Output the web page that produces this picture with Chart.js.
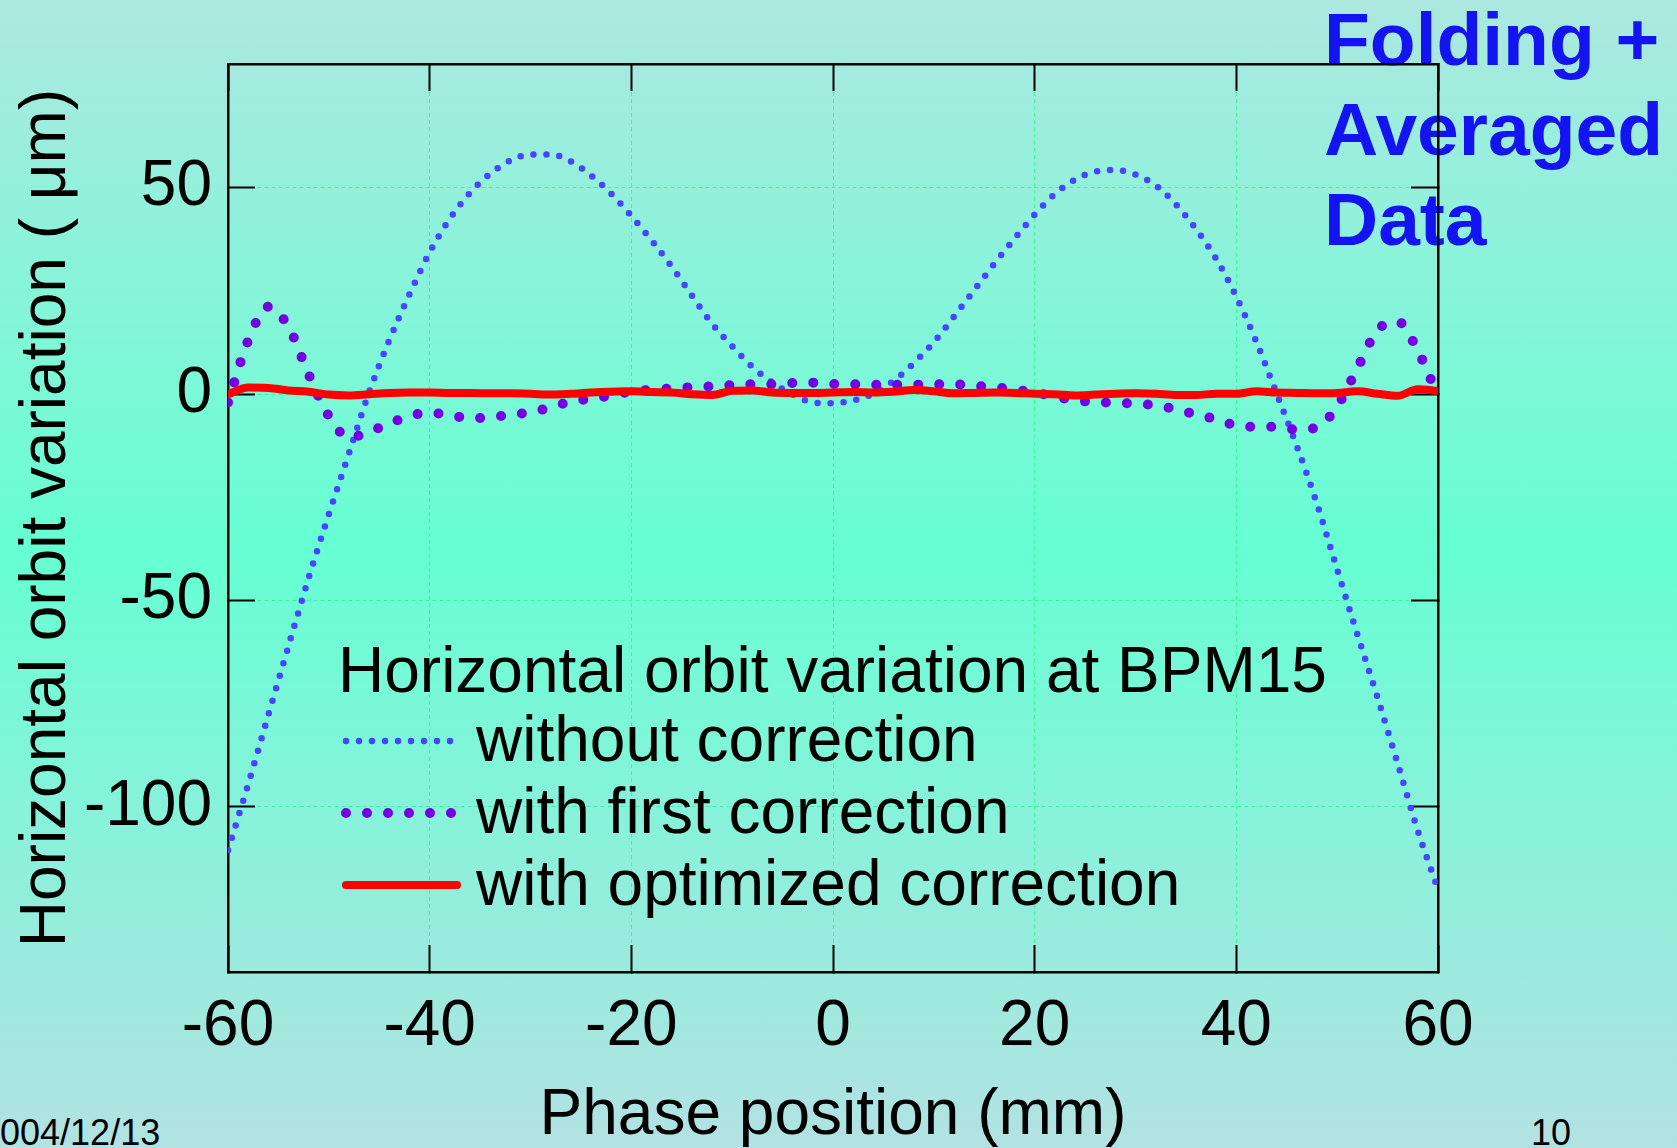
<!DOCTYPE html>
<html>
<head>
<meta charset="utf-8">
<title>Horizontal orbit variation at BPM15</title>
<script src="https://cdn.jsdelivr.net/npm/chart.js@4.4.1/dist/chart.umd.min.js"></script>
<style>
  html, body { margin: 0; padding: 0; }
  body {
    width: 1677px; height: 1148px; overflow: hidden; position: relative;
    background: linear-gradient(to bottom, #ace8e0 0%, #66ffd3 48%, #b2e2e2 100%);
    font-family: "Liberation Sans", Arial, Helvetica, sans-serif;
  }
  .note { position: absolute; white-space: nowrap; }
  #stamp { left: 1324px; top: -6px; font-weight: bold; font-size: 75px; line-height: 90px; color: #1414f0; }
  #date { left: -20px; top: 1115px; font-size: 36px; line-height: 36px; color: #000; }
  #pageNo { left: 1531px; top: 1115px; font-size: 36px; line-height: 36px; color: #000; }
  #orbitChart { position: absolute; left: 0; top: 0; }
</style>
</head>
<body>
<div class="note" id="stamp">Folding +<br>Averaged<br>Data</div>
<div class="note" id="date">2004/12/13</div>
<div class="note" id="pageNo">10</div>
<canvas id="orbitChart" width="1677" height="1148"></canvas>
<script>
// phase position (mm), one sample every 2 mm
const phasePos = [];
for (let p = -60; p <= 60; p += 2) phasePos.push(p);

// orbit variation (um)
const withoutCorr = [
  -110.5, -94.5, -77.7, -61, -44.5, -29.1, -14.3, 0.5, 13.1, 24.2,
  34.4, 42.5, 48.8, 53.4, 56.6, 58.1, 58.1, 56.4, 53, 48.6,
  43.2, 37.3, 30.9, 23.9, 17.1, 11.6, 6.6, 2.8, -0.1, -2,
  -2.2, -1.5, 0.1, 3.2, 7.5, 12.6, 18.8, 25.2, 31.6, 37.7,
  43.5, 48.5, 52, 53.9, 54.3, 53.2, 50.6, 46, 40, 32.8,
  23.6, 12.6, 0.1, -12.6, -26.6, -42.5, -58.2, -73.5, -89.5, -105.8,
  -120
];
const firstCorr = [
  -2, 13, 21.2, 16.3, 4.8, -5.3, -10.5, -9.1, -7.1, -5.3,
  -4.5, -5.1, -5.8, -5.6, -5, -4.4, -3.2, -1.8, -1.1, -0.3,
  0.6, 1.1, 1.4, 1.7, 1.9, 2.2, 2.4, 2.4, 2.7, 2.8,
  2.5, 2.4, 2.3, 2.3, 2.3, 2.4, 2.4, 2, 1.7, 1.1,
  0.4, -0.6, -1.5, -1.9, -2.1, -2.3, -2.7, -3.7, -4.9, -6.1,
  -7.6, -7.9, -7.9, -8.6, -8, -3, 6.3, 15.5, 17.6, 10.5,
  -0.5
];
const optimizedCorr = [
  0, 1.6, 1.5, 0.9, 0.6, -0.1, -0.3, 0, 0.3, 0.4,
  0.4, 0.3, 0.3, 0.2, 0.2, 0.1, -0.1, 0.1, 0.4, 0.6,
  0.7, 0.5, 0.4, 0, -0.2, 0.8, 0.9, 0.4, 0.3, 0.3,
  0.4, 0.5, 0.4, 0.6, 1.0, 0.7, 0.2, 0.3, 0.4, 0.3,
  0.1, 0, -0.3, -0.1, 0.1, 0.2, 0.1, -0.2, -0.2, 0.1,
  0.1, 0.7, 0.4, 0.3, 0.2, 0.3, 0.7, 0.1, -0.4, 1.2,
  0.8
];

const xTickVals = [-60, -40, -20, 0, 20, 40, 60];
const yTickVals = [-100, -50, 0, 50];

const legendTitle = "Horizontal orbit variation at BPM15";
const seriesNames = ["with optimized correction", "with first correction", "without correction"];

const FONT = '"Liberation Sans", Arial, Helvetica, sans-serif';
Chart.defaults.font.family = FONT;
Chart.defaults.color = "#000";

const toPoints = ys => phasePos.map((x, i) => ({ x: x, y: ys[i] }));
const gridGreen = "rgba(50,245,140,0.85)";

// draws the in-plot legend (title + three sample lines)
const plotLegend = {
  id: "plotLegend",
  afterDatasetsDraw(chart) {
    const ctx = chart.ctx;
    ctx.save();
    ctx.font = "64px " + FONT;
    ctx.textBaseline = "middle";
    ctx.fillStyle = "#000";
    ctx.fillText(legendTitle, 338, 674);
    // order on the slide: without, first, optimized
    const rows = [
      { ds: 2, y: 743 },
      { ds: 1, y: 815 },
      { ds: 0, y: 887 }
    ];
    rows.forEach(r => {
      const d = chart.data.datasets[r.ds];
      ctx.beginPath();
      ctx.setLineDash(d.borderDash || []);
      ctx.lineCap = "round";
      ctx.lineWidth = d.borderWidth;
      ctx.strokeStyle = d.borderColor;
      ctx.moveTo(346, r.y - 2);
      ctx.lineTo(457, r.y - 2);
      ctx.stroke();
      ctx.setLineDash([]);
      ctx.fillText(d.label, 476, r.y);
    });
    ctx.restore();
  }
};

new Chart(document.getElementById("orbitChart"), {
  type: "line",
  data: {
    datasets: [
      {
        label: seriesNames[0],
        data: toPoints(optimizedCorr),
        borderColor: "#ff0000",
        borderWidth: 8,
        borderCapStyle: "round",
        cubicInterpolationMode: "monotone",
        pointRadius: 0
      },
      {
        label: seriesNames[1],
        data: toPoints(firstCorr),
        borderColor: "#7300e0",
        borderWidth: 10,
        borderDash: [0, 21],
        borderCapStyle: "round",
        cubicInterpolationMode: "monotone",
        pointRadius: 0
      },
      {
        label: seriesNames[2],
        data: toPoints(withoutCorr),
        borderColor: "#4646ff",
        borderWidth: 6.5,
        borderDash: [0, 13],
        borderCapStyle: "round",
        cubicInterpolationMode: "monotone",
        pointRadius: 0
      }
    ]
  },
  options: {
    responsive: false,
    animation: false,
    devicePixelRatio: 1,
    layout: { padding: { left: 0, top: 64, right: 239, bottom: 0 } },
    plugins: { legend: { display: false }, tooltip: { enabled: false } },
    scales: {
      x: {
        type: "linear", position: "bottom", min: -60, max: 60,
        afterBuildTicks: s => { s.ticks = xTickVals.map(v => ({ value: v })); },
        afterFit: s => { s.height = 176; s.paddingLeft = 0; s.paddingRight = 0; },
        ticks: { font: { size: 64 }, padding: 44, color: "#000", maxRotation: 0 },
        grid: { color: gridGreen, lineWidth: 1, tickLength: -27, tickColor: "#000", tickWidth: 2 },
        border: { color: "#000", width: 2.5, dash: [4, 3] },
        title: { display: true, text: "Phase position (mm)", font: { size: 64, lineHeight: 1 }, padding: { top: 2, bottom: 0 }, color: "#000" }
      },
      y: {
        type: "linear", position: "left", min: -140, max: 80,
        afterBuildTicks: s => { s.ticks = yTickVals.map(v => ({ value: v })); },
        afterFit: s => { s.width = 228; s.paddingTop = 0; s.paddingBottom = 0; },
        ticks: { font: { size: 64 }, padding: 43, color: "#000" },
        grid: { color: gridGreen, lineWidth: 1, tickLength: -27, tickColor: "#000", tickWidth: 2 },
        border: { color: "#000", width: 2.5, dash: [4, 3] },
        title: { display: true, text: "Horizontal orbit variation ( \u03bcm)", font: { size: 64, lineHeight: 1 }, padding: { top: 15, bottom: 0 }, color: "#000" }
      },
      xTop: {
        type: "linear", position: "top", min: -60, max: 60,
        afterBuildTicks: s => { s.ticks = xTickVals.map(v => ({ value: v })); },
        afterFit: s => { s.height = 0; },
        ticks: { display: false },
        grid: { drawOnChartArea: false, tickLength: -27, tickColor: "#000", tickWidth: 2 },
        border: { color: "#000", width: 2.5 }
      },
      yRight: {
        type: "linear", position: "right", min: -140, max: 80,
        afterBuildTicks: s => { s.ticks = yTickVals.map(v => ({ value: v })); },
        afterFit: s => { s.width = 0; },
        ticks: { display: false },
        grid: { drawOnChartArea: false, tickLength: -27, tickColor: "#000", tickWidth: 2 },
        border: { color: "#000", width: 2.5 }
      }
    }
  },
  plugins: [plotLegend]
});
</script>
</body>
</html>
